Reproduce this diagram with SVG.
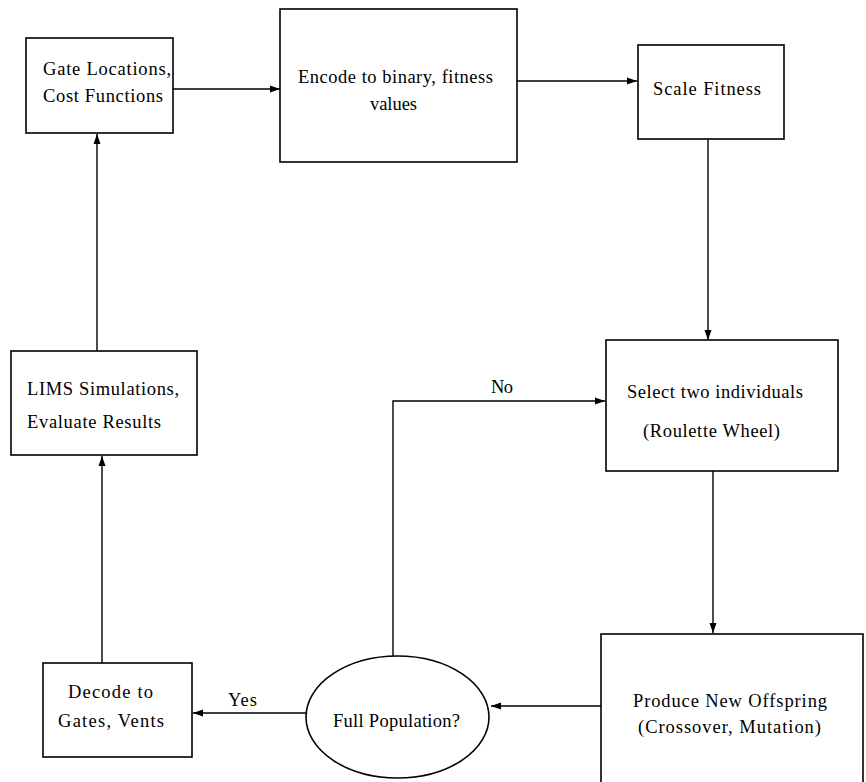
<svg xmlns="http://www.w3.org/2000/svg" width="866" height="782" viewBox="0 0 866 782">
<style>
.box{fill:#fff;stroke:#000;stroke-width:1.6}
.ln{fill:none;stroke:#000;stroke-width:1.4}
text{font-family:"Liberation Serif","Times New Roman",serif;font-size:18.5px;fill:#000}
</style>
<defs>
<marker id="ah" viewBox="0 0 10 10" refX="10" refY="5" markerWidth="10" markerHeight="10" markerUnits="userSpaceOnUse" orient="auto">
<path d="M0,1.5 L10,5 L0,8.5 z" fill="#000"/>
</marker>
</defs>
<rect width="866" height="782" fill="#fff"/>
<g id="connectors">
<line class="ln" x1="173" y1="89" x2="280" y2="89" marker-end="url(#ah)"/>
<line class="ln" x1="517" y1="81" x2="637" y2="81" marker-end="url(#ah)"/>
<line class="ln" x1="708" y1="139" x2="708" y2="340" marker-end="url(#ah)"/>
<line class="ln" x1="713" y1="471" x2="713" y2="633" marker-end="url(#ah)"/>
<line class="ln" x1="601" y1="706" x2="491" y2="706" marker-end="url(#ah)"/>
<polyline class="ln" points="393,656 393,401 605,401" marker-end="url(#ah)"/>
<line class="ln" x1="306" y1="713" x2="193" y2="713" marker-end="url(#ah)"/>
<line class="ln" x1="102" y1="663" x2="102" y2="456" marker-end="url(#ah)"/>
<line class="ln" x1="97" y1="351" x2="97" y2="134" marker-end="url(#ah)"/>
<text x="491" y="393" textLength="22">No</text>
<text x="228" y="706" textLength="29">Yes</text>
</g>
<g id="gate">
<rect class="box" x="26" y="38" width="147" height="95"/>
<text x="43" y="75" textLength="128">Gate Locations,</text>
<text x="43" y="102" textLength="120">Cost Functions</text>
</g>
<g id="encode">
<rect class="box" x="280" y="9" width="237" height="153"/>
<text x="298" y="83" textLength="195">Encode to binary, fitness</text>
<text x="370" y="110" textLength="47">values</text>
</g>
<g id="scale">
<rect class="box" x="638" y="45" width="146" height="94"/>
<text x="653" y="95" textLength="108">Scale Fitness</text>
</g>
<g id="select">
<rect class="box" x="606" y="340" width="232" height="131"/>
<text x="627" y="398" textLength="176">Select two individuals</text>
<text x="643" y="437" textLength="137">(Roulette Wheel)</text>
</g>
<g id="produce">
<rect class="box" x="601" y="634" width="262" height="170"/>
<text x="633" y="707" textLength="194">Produce New Offspring</text>
<text x="638" y="733" textLength="183">(Crossover, Mutation)</text>
</g>
<g id="full">
<ellipse class="box" cx="397.5" cy="717" rx="91.5" ry="61"/>
<text x="333" y="727" textLength="127">Full Population?</text>
</g>
<g id="decode">
<rect class="box" x="43" y="663" width="149" height="94"/>
<text x="68" y="698" textLength="85">Decode to</text>
<text x="58" y="727" textLength="106">Gates, Vents</text>
</g>
<g id="lims">
<rect class="box" x="11" y="351" width="186" height="104"/>
<text x="27" y="395" textLength="152">LIMS Simulations,</text>
<text x="27" y="428" textLength="134">Evaluate Results</text>
</g>
</svg>
